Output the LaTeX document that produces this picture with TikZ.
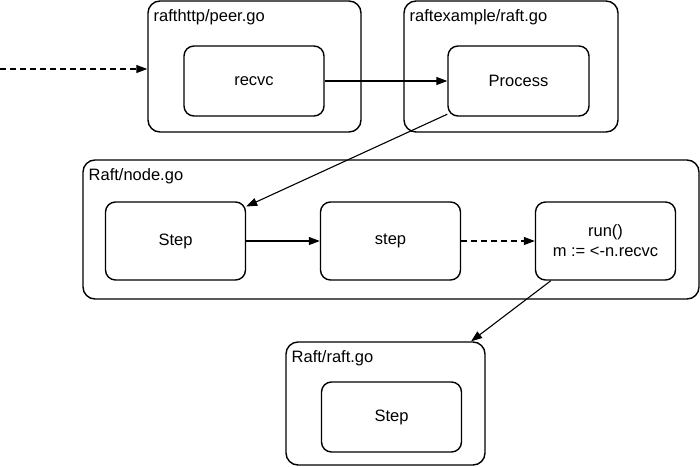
\documentclass[tikz,border=0pt]{standalone}
\usepackage{fontspec}
\setmainfont{Liberation Sans}
\usetikzlibrary{arrows.meta}

\begin{document}
\begin{tikzpicture}[
    x=0.5pt, y=-0.5pt,
    font=\fontsize{8.25}{10}\selectfont,
    container/.style={draw, rounded corners=6pt, line width=0.7pt, inner sep=0pt},
    func/.style={draw, rounded corners=5pt, line width=0.7pt, align=center,
        inner sep=0pt, minimum width=70pt},
    filelabel/.style={anchor=base west, inner sep=0pt},
    flow/.style={line width=0.55pt, -{Triangle[length=5.5pt, width=4pt]}},
    async/.style={flow, dash pattern=on 3pt off 2pt}
]
\useasboundingbox (0,0) rectangle (700,466);

% --- Dateien (Container) ---
\node[container, minimum width=106.5pt, minimum height=65.5pt] (peer)   at (254.5, 66.5) {};
\node[container, minimum width=107pt,   minimum height=65.5pt] (raftex) at (511, 66.5) {};
\node[container, minimum width=308pt,   minimum height=69.5pt] (nodego) at (391, 229.5) {};
\node[container, minimum width=99.5pt,  minimum height=61.5pt] (raftgo) at (385.5, 403.5) {};

% Dateinamen oben links
\node[filelabel] (lbl_peer)   at ([xshift=3pt, yshift=-10.5pt]peer.north west)   {rafthttp/peer.go};
\node[filelabel] (lbl_raftex) at ([xshift=3pt, yshift=-10.5pt]raftex.north west) {raftexample/raft.go};
\node[filelabel] (lbl_nodego) at ([xshift=3pt, yshift=-10.5pt]nodego.north west) {Raft/node.go};
\node[filelabel] (lbl_raftgo) at ([xshift=3pt, yshift=-10.5pt]raftgo.north west) {Raft/raft.go};

% --- Funktionen ---
\node[func, minimum height=35pt] (recvc)   at (254, 81)     {recvc};
\node[func, minimum height=35pt, minimum width=70.5pt] (process) at (518.5, 81) {Process};
\node[func, minimum height=39pt] (nStep)   at (175.5, 241)  {Step};
\node[func, minimum height=39pt] (nstep)   at (390.5, 241)  {step};
\node[func, minimum height=39pt] (run)     at (605.5, 241)  {run()\\m := <-n.recvc};
\node[func, minimum height=35pt] (rStep)   at (391.5, 417)  {Step};

% --- Aufrufe ---
\coordinate (ext) at (0, 69);
\draw[async] (ext) -- (ext -| peer.west);
\draw[flow] (recvc.east) -- (process.west);
\draw[flow] (process.205) -- (nStep.26);
\draw[flow] (nStep.east) -- (nstep.west);
\draw[async] (nstep.east) -- (run.west);
\draw[flow] (run.216) -- (raftgo.36);

\end{tikzpicture}
\end{document}
